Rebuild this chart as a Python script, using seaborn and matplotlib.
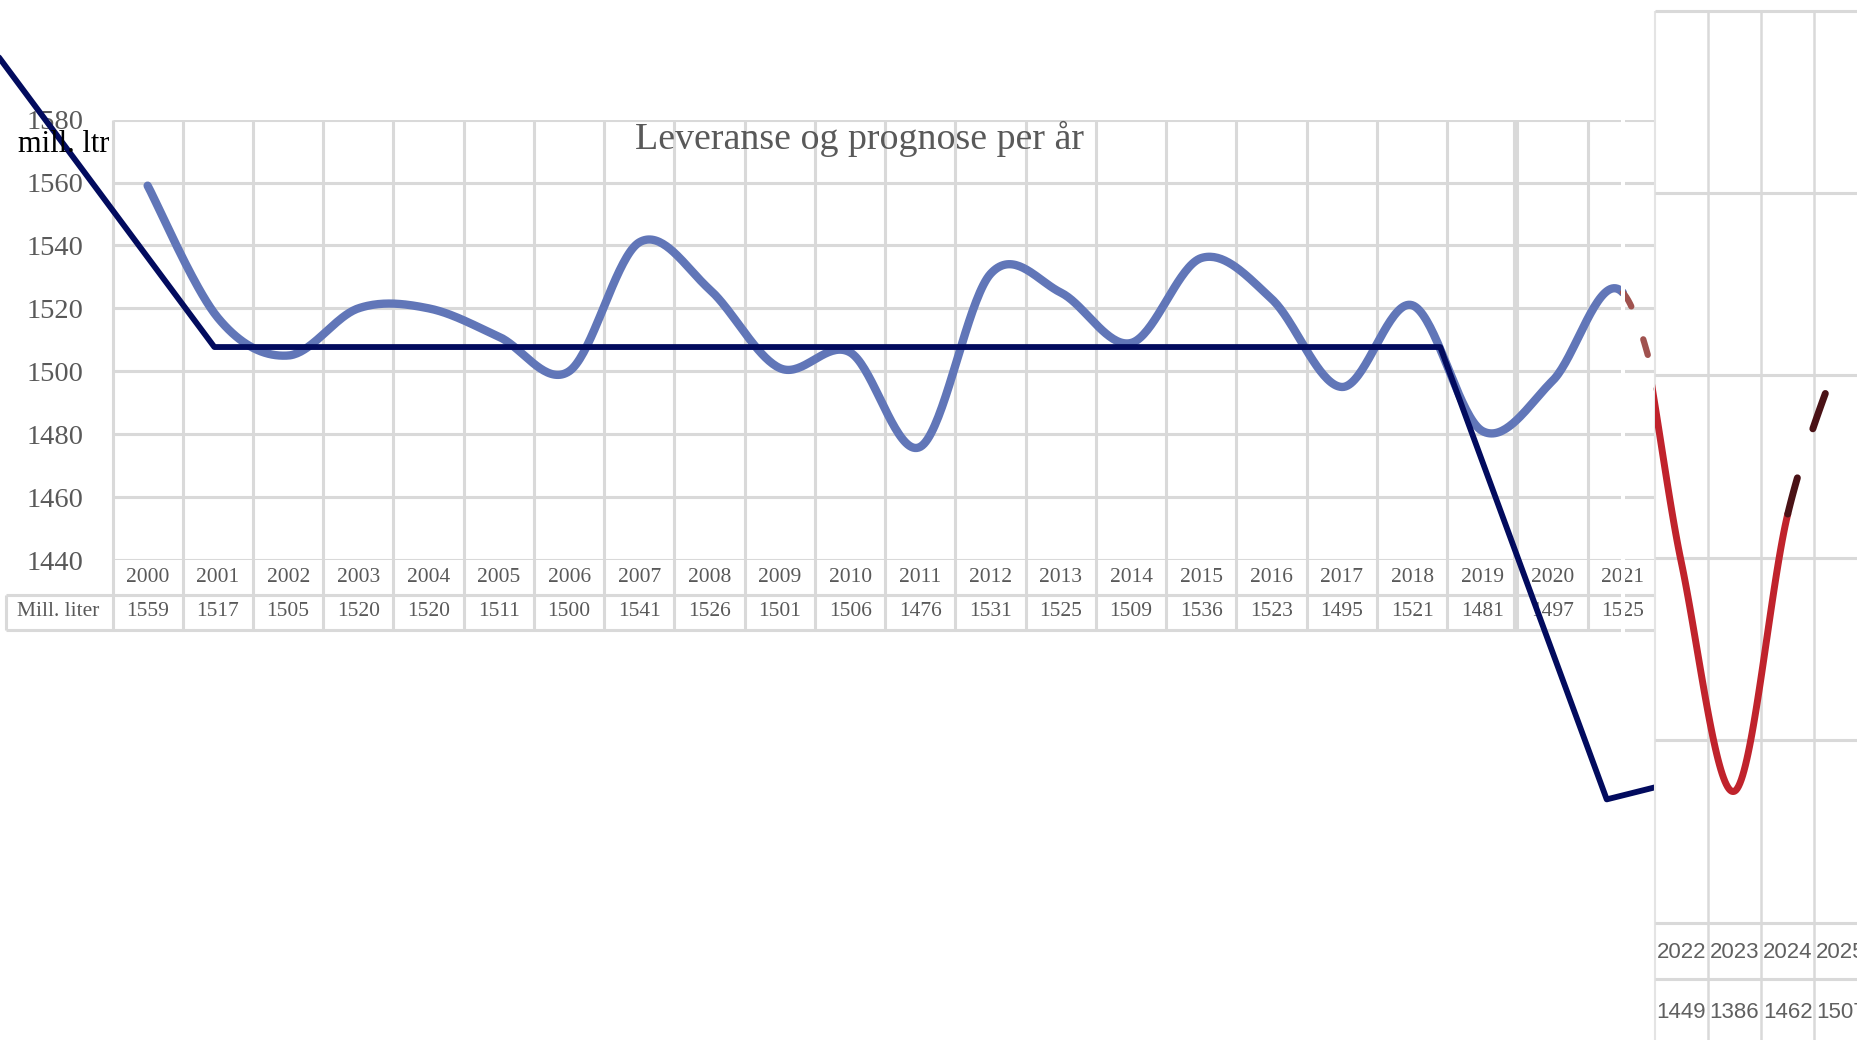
import numpy as np
import matplotlib
matplotlib.use("Agg")
import matplotlib.pyplot as plt
import matplotlib.transforms as mtrans
from matplotlib.patches import Rectangle
import seaborn as sns

years = ['2000', '2001', '2002', '2003', '2004', '2005', '2006', '2007', '2008', '2009', '2010',
         '2011', '2012', '2013', '2014', '2015', '2016', '2017', '2018', '2019', '2020', '2021']
deliveries = [1559, 1517, 1505, 1520, 1520, 1511, 1500, 1541, 1526, 1501, 1506,
              1476, 1531, 1525, 1509, 1536, 1523, 1495, 1521, 1481, 1497, 1525]
fc_years = ['2022', '2023', '2024', '2025']
forecast = [1449, 1386, 1462, 1507]

# navy line drawn on top of the chart (x in category units, y in mill. liter)
trend_x = [-2.25, 0.95, 18.40, 20.77, 21.45]
trend_y = [1603.8, 1507.7, 1507.7, 1363.9, 1367.7]

main_ticks = [1440, 1460, 1480, 1500, 1520, 1540, 1560, 1580]
panel_ticks = [1350, 1400, 1450, 1500, 1550, 1600]

GRID = '#D9D9D9'
TXT = '#595959'
BLUE = '#6176B8'
NAVY = '#020B5E'
RED = '#C0232C'
DARK = '#4A1216'
BROWN = '#A0524F'


def smooth(xs, ys, start, stop, n=40):
    # excel-like smoothed line (catmull-rom through the data points)
    p = np.column_stack([xs, ys]).astype(float)
    out = []
    for i in range(start, stop):
        p0 = p[max(i - 1, 0)]
        p1, p2 = p[i], p[i + 1]
        p3 = p[min(i + 2, len(p) - 1)]
        t = np.linspace(0, 1, n)[:, None]
        seg = 0.5 * (2 * p1 + (p2 - p0) * t + (2 * p0 - 5 * p1 + 4 * p2 - p3) * t ** 2
                     + (3 * p1 - p0 - 3 * p2 + p3) * t ** 3)
        out.append(seg if not out else seg[1:])
    return np.vstack(out)


sns.set_style('white')
plt.rcParams['font.family'] = ['Liberation Serif', 'DejaVu Serif']
NARROW = ['Liberation Sans', 'DejaVu Sans']

W, H = 1857, 1040
fig = plt.figure(figsize=(W / 100, H / 100), dpi=100)

# ---- main chart ----
ax_l, ax_r, ax_t, ax_b = 112.5, 1658, 119.6, 560
ax = fig.add_axes([ax_l / W, 1 - ax_b / H, (ax_r - ax_l) / W, (ax_b - ax_t) / H])
ax.set_facecolor('none')
ax.set_xlim(-0.5, 21.5)
ax.set_ylim(1440, 1580)
for s in ax.spines.values():
    s.set_visible(False)
ax.set_xticks([])
ax.set_yticks(main_ticks)
ax.tick_params(axis='y', length=0, pad=21, labelsize=20.5, labelcolor=TXT)

axh = ax_b - ax_t
row1 = -(594.5 - ax_b) / axh
row2 = -(630 - ax_b) / axh
blend = mtrans.blended_transform_factory(ax.transData, ax.transAxes)
bounds = np.arange(len(years) + 1) - 0.5
ax.vlines(bounds, row2, 1, transform=blend, colors=GRID, lw=2.2, clip_on=False, zorder=0)
ax.vlines([19.45], row2, 1, transform=blend, colors=GRID, lw=2.2, clip_on=False, zorder=0)
ax.hlines(main_ticks, -0.5, 21.5, colors=GRID, lw=2.2, zorder=0)
lab_left = -0.5 - (ax_l - 6) / ((ax_r - ax_l) / 22)
ax.hlines([row1, row2], lab_left, 21.5, transform=blend, colors=GRID, lw=2.2, clip_on=False, zorder=0)
ax.vlines([lab_left], row2, row1, transform=blend, colors=GRID, lw=2.2, clip_on=False, zorder=0)

for i, (yr, v) in enumerate(zip(years, deliveries)):
    ax.text(i, -(577 - ax_b) / axh, yr, transform=blend, ha='center', va='center', fontsize=15.5, color=TXT)
    ax.text(i, -(612 - ax_b) / axh, str(v), transform=blend, ha='center', va='center', fontsize=15.5, color=TXT)
ax.text(-0.5 - (ax_l - 58) / ((ax_r - ax_l) / 22), -(612 - ax_b) / axh, 'Mill. liter', transform=blend,
        ha='center', va='center', fontsize=15.5, color=TXT)

ax.text((860 - ax_l) / (ax_r - ax_l), (ax_b - 139) / axh, 'Leveranse og prognose per år',
        transform=ax.transAxes, ha='center', va='center', fontsize=27.3, color=TXT)
fig.text(18 / W, 1 - 144 / H, 'mill. ltr', ha='left', va='center', fontsize=22, color='black')

vals = deliveries + forecast
idx = np.arange(len(vals))
blue = smooth(idx, vals, 0, 21)
brown = smooth(idx, vals, 21, 22)
sns.lineplot(x=blue[:, 0], y=blue[:, 1], sort=False, estimator=None, ax=ax, color=BLUE, lw=6,
             solid_capstyle='round', zorder=2)
sns.lineplot(x=brown[:, 0], y=brown[:, 1], sort=False, estimator=None, ax=ax, color=BROWN, lw=4.5,
             linestyle=(0, (2.6, 5.6)), dash_capstyle='round', zorder=2)
sns.lineplot(x=trend_x, y=trend_y, sort=False, estimator=None, ax=ax, color=NAVY, lw=4.2,
             clip_on=False, zorder=4)

# small white seam between the two screenshots
fig.patches.append(Rectangle((1621 / W, 1 - 636 / H), 4 / W, (636 - 108) / H, transform=fig.transFigure,
                             facecolor='white', edgecolor='none', zorder=5))

# ---- forecast panel ----
p_l, p_t, p_b = 1654.5, 10.7, 922.6
col = 53.3
ax2 = fig.add_axes([p_l / W, 1 - p_b / H, 4 * col / W, (p_b - p_t) / H], zorder=10)
ax2.set_facecolor('white')
ax2.set_xlim(-0.5, 3.5)
ax2.set_ylim(1350, 1600)
for s in ax2.spines.values():
    s.set_visible(False)
ax2.set_xticks([])
ax2.set_yticks([])
ph = p_b - p_t
blend2 = mtrans.blended_transform_factory(ax2.transData, ax2.transAxes)
bottom2 = -(H - p_b) / ph
ax2.vlines([0.5, 1.5, 2.5, 3.5], bottom2, 1, transform=blend2, colors=GRID, lw=1.8, clip_on=False)
ax2.vlines([-0.5], bottom2, 1, transform=blend2, colors='#E4E4E4', lw=1.5, clip_on=False)
ax2.hlines(panel_ticks, -0.5, 3.5, colors=GRID, lw=2.2, clip_on=False)
ax2.hlines([-(979.4 - p_b) / ph], -0.5, 3.5, transform=blend2, colors=GRID, lw=2.2, clip_on=False)
for i, (yr, v) in enumerate(zip(fc_years, forecast)):
    ax2.text(i, -(953 - p_b) / ph, yr, transform=blend2, ha='center', va='center', fontsize=16,
             color='#606060', family=NARROW, clip_on=False)
    ax2.text(i, -(1013 - p_b) / ph, str(v), transform=blend2, ha='center', va='center', fontsize=16,
             color='#606060', family=NARROW, clip_on=False)

red = smooth(idx, vals, 21, 24)
dark = smooth(idx, vals, 24, 25)
sns.lineplot(x=red[:, 0] - 22, y=red[:, 1], sort=False, estimator=None, ax=ax2, color=RED, lw=5,
             solid_capstyle='round')
sns.lineplot(x=dark[:, 0] - 22, y=dark[:, 1], sort=False, estimator=None, ax=ax2, color=DARK, lw=5,
             linestyle=(0, (5.4, 7.4)), dash_capstyle='round')
for a in (ax, ax2):
    if a.get_legend():
        a.get_legend().remove()
    a.set_xlabel('')
    a.set_ylabel('')

fig.savefig('out.png', dpi=100)
